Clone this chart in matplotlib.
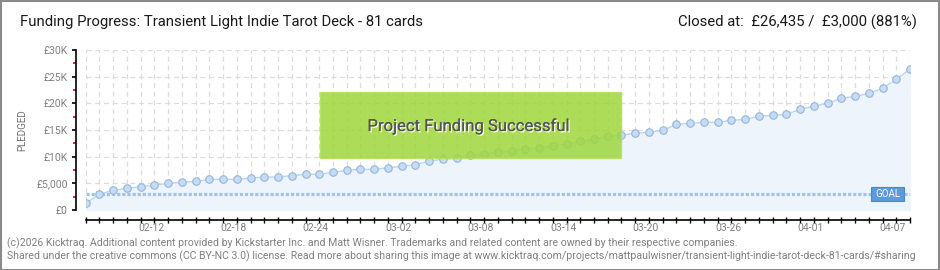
import matplotlib
matplotlib.use("Agg")
import matplotlib.pyplot as plt
import matplotlib.transforms as mtransforms
from matplotlib.patches import Rectangle
import matplotlib.patheffects as pe
import numpy as np

# ---- data ----
title = "Funding Progress: Transient Light Indie Tarot Deck - 81 cards"
closed_text = "Closed at:  £26,435 /  £3,000 (881%)"
goal = 3000
pledged_k = [1.26, 2.94, 3.69, 4.06, 4.38, 4.63, 5.0, 5.19, 5.38, 5.75,
             5.75, 5.75, 6.0, 6.19, 6.19, 6.44, 6.72, 6.72, 7.06, 7.44,
             7.63, 7.63, 7.9, 8.22, 8.47, 9.19, 9.5, 9.72, 10.28, 10.5,
             10.88, 11.06, 11.4, 11.6, 12.05, 12.35, 12.85, 13.3, 13.8, 14.05,
             14.4, 14.56, 14.94, 16.06, 16.25, 16.44, 16.44, 16.81, 17.0, 17.56,
             17.75, 17.94, 18.88, 19.44, 20.0, 20.94, 21.31, 21.88, 22.81, 24.5,
             26.435]
pledged = [v * 1000 for v in pledged_k]
date_label_idx = [4, 10, 16, 22, 28, 34, 40, 46, 52, 58]
date_labels = ["02-12", "02-18", "02-24", "03-02", "03-08", "03-14",
               "03-20", "03-26", "04-01", "04-07"]
ytick_vals = [0, 5000, 10000, 15000, 20000, 25000, 30000]
ytick_labels = ["£0", "£5,000", "£10K", "£15K", "£20K", "£25K", "£30K"]
footer1 = ("(c)2026 Kicktraq. Additional content provided by Kickstarter Inc. and Matt Wisner. "
           "Trademarks and related content are owned by their respective companies.")
footer2 = ("Shared under the creative commons (CC BY-NC 3.0) license. Read more about sharing this image at "
           "www.kicktraq.com/projects/mattpaulwisner/transient-light-indie-tarot-deck-81-cards/#sharing")

W, H = 940, 270
fig = plt.figure(figsize=(W / 100, H / 100), dpi=100)
fig.patch.set_facecolor("white")
FONT = ["Roboto", "DejaVu Sans"]

# border
fig.add_artist(Rectangle((0.5 / W, 0.5 / H), 1 - 1.5 / W, 1 - 1.5 / H, transform=fig.transFigure,
                         fill=False, edgecolor="#8a8a8a", linewidth=1.5))

def px(x, y):
    return x / W, 1 - y / H

ax = fig.add_axes([85.7 / W, (H - 210) / H, (910 - 85.7) / W, 160 / H])
x = np.arange(len(pledged))
ax.set_xlim(0, len(pledged) - 1)
ax.set_ylim(0, 30000)

ax.fill_between(x, 0, pledged, color="#edf4fc", zorder=1)
ax.plot(x, pledged, color="#bcd6f2", linewidth=1, zorder=3,
        marker="o", markersize=5.4, markerfacecolor="#c4dcf7", markeredgecolor="#98b5d6",
        markeredgewidth=0.8)
ax.axhline(goal, color="#a3c3ea", linewidth=2.3, linestyle=(0, (1, 0.6)), zorder=2)

# grid
ax.set_yticks(ytick_vals)
ax.set_yticklabels(ytick_labels)
ax.set_yticks([2500 + 5000 * i for i in range(6)], minor=True)
ax.set_xticks(x)
ax.set_xticklabels([])
ax.grid(True, which="major", color="#dcdcdc", linestyle=(0, (4, 3)), linewidth=0.9, zorder=0)
ax.set_axisbelow(True)

for s in ["top", "right"]:
    ax.spines[s].set_visible(False)
ax.spines["left"].set_position(("outward", 7))
ax.spines["bottom"].set_position(("outward", 7))
ax.spines["left"].set_linewidth(1.2)
ax.spines["bottom"].set_linewidth(1.2)
ax.spines["bottom"].set_bounds(0, len(pledged) - 1)
ax.tick_params(axis="y", which="major", direction="out", length=3, width=1.2, color="black",
               labelsize=7.5, labelcolor="#808080", pad=3)
ax.tick_params(axis="y", which="minor", direction="out", length=2.5, width=1.2, color="#e00000")
ax.tick_params(axis="x", which="major", direction="inout", length=5, width=1, color="black")
for lab in ax.get_yticklabels():
    lab.set_family(FONT)

trans = mtransforms.blended_transform_factory(ax.transData, fig.transFigure)
for i, lab in zip(date_label_idx, date_labels):
    ax.text(i + 0.75, 1 - 228 / H, lab, transform=trans, ha="center", va="center",
            fontsize=7.5, color="#808080", family=FONT)

fig.text(*px(22, 130), "PLEDGED", rotation=90, ha="center", va="center", fontsize=7,
         color="#707070", family=FONT)

# title texts
fig.text(*px(20, 22), title, ha="left", va="center", fontsize=10.7, color="#1a1a1a", family=FONT)
fig.text(*px(917, 22), closed_text, ha="right", va="center", fontsize=10.7, color="#1a1a1a", family=FONT)

# success box
x0, y0 = px(320, 158)
x1, y1 = px(620.7, 92.3)
fig.add_artist(Rectangle((x0, y0), x1 - x0, y1 - y0, transform=fig.transFigure,
                         facecolor="#9fd63c", edgecolor="#b4e060", linewidth=1, alpha=0.85, zorder=5))
fig.text(*px(468, 126), "Project Funding Successful", ha="center", va="center", fontsize=12,
         color="#555555", family=FONT, zorder=6,
         path_effects=[pe.withSimplePatchShadow(offset=(1, -1), shadow_rgbFace="white", alpha=0.9),
                       pe.Normal()])

# GOAL tag
gx0, gy0 = px(871, 201)
gx1, gy1 = px(904, 187)
fig.add_artist(Rectangle((gx0, gy0), gx1 - gx0, gy1 - gy0, transform=fig.transFigure,
                         facecolor="#5b9bdb", edgecolor="#4a88c8", linewidth=0.8, zorder=5))
fig.text((gx0 + gx1) / 2, (gy0 + gy1) / 2, "GOAL", ha="center", va="center", fontsize=7,
         color="white", family=FONT, zorder=6)

# footer
fig.text(*px(7, 243), footer1, ha="left", va="center", fontsize=7.6, color="#808080", family=FONT)
fig.text(*px(7, 256), footer2, ha="left", va="center", fontsize=7.6, color="#808080", family=FONT)

fig.savefig("out.png", dpi=100, facecolor="white")
